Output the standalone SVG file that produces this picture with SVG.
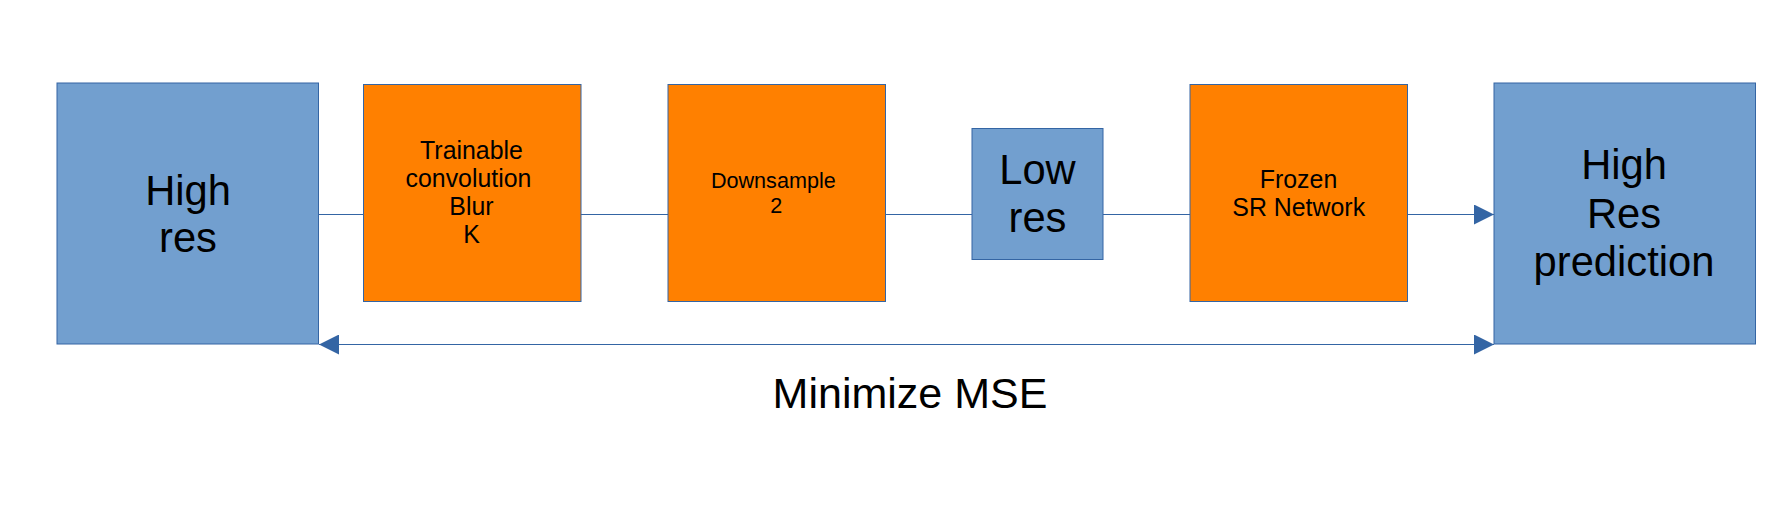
<svg xmlns="http://www.w3.org/2000/svg" width="1784" height="507" viewBox="0 0 1784 507">
<style>
.blue{fill:#729fcf;stroke:#3465a4;stroke-width:1}
.orange{fill:#ff8000;stroke:#3465a4;stroke-width:1}
text{font-family:"Liberation Sans",Arial,sans-serif;fill:#000;text-anchor:middle}
.big{font-size:41.7px}
.mid{font-size:24.9px}
.sm{font-size:21.6px}
.conn{stroke:#3465a4;stroke-width:1;fill:none}
</style>
<defs>
<marker id="arr" markerUnits="userSpaceOnUse" markerWidth="21" markerHeight="20" refX="20" refY="10" orient="auto-start-reverse">
<path d="M0,0 L20,10 L0,20 Z" fill="#3465a4"/>
</marker>
</defs>
<rect width="1784" height="507" fill="#fff"/>
<g id="connectors">
<line class="conn" x1="318.5" y1="214.5" x2="363.5" y2="214.5"/>
<line class="conn" x1="581" y1="214.5" x2="668" y2="214.5"/>
<line class="conn" x1="886" y1="214.5" x2="972" y2="214.5"/>
<line class="conn" x1="1103" y1="214.5" x2="1190" y2="214.5"/>
<line class="conn" x1="1408" y1="214.5" x2="1494" y2="214.5" marker-end="url(#arr)"/>
<line class="conn" x1="319" y1="344.5" x2="1494" y2="344.5" marker-start="url(#arr)" marker-end="url(#arr)"/>
</g>
<g id="high-res">
<rect class="blue" x="57" y="83" width="261.5" height="261"/>
<text class="big" x="188" y="204.5">High</text>
<text class="big" x="188" y="251.7">res</text>
</g>
<g id="blur">
<rect class="orange" x="363.5" y="84.5" width="217.5" height="217"/>
<text class="mid" x="471.5" y="158.5">Trainable</text>
<text class="mid" x="468.5" y="186.7">convolution</text>
<text class="mid" x="471.5" y="215">Blur</text>
<text class="mid" x="471.5" y="243.3">K</text>
</g>
<g id="downsample">
<rect class="orange" x="668" y="84.5" width="217.5" height="217"/>
<text class="sm" x="773.3" y="187.7">Downsample</text>
<text class="sm" x="776.3" y="213.3">2</text>
</g>
<g id="low-res">
<rect class="blue" x="972" y="128.5" width="131" height="131"/>
<text class="big" x="1037.5" y="183.5">Low</text>
<text class="big" x="1037.5" y="231.5">res</text>
</g>
<g id="sr-network">
<rect class="orange" x="1190" y="84.5" width="217.5" height="217"/>
<text class="mid" x="1298.5" y="187.7">Frozen</text>
<text class="mid" x="1298.7" y="215.7">SR Network</text>
</g>
<g id="prediction">
<rect class="blue" x="1494" y="83" width="261.5" height="261"/>
<text class="big" x="1624" y="179.4">High</text>
<text class="big" x="1624" y="228">Res</text>
<text class="big" x="1624" y="276">prediction</text>
</g>
<text id="mse-label" class="big" x="910" y="407.5" style="font-size:43px">Minimize MSE</text>
</svg>
